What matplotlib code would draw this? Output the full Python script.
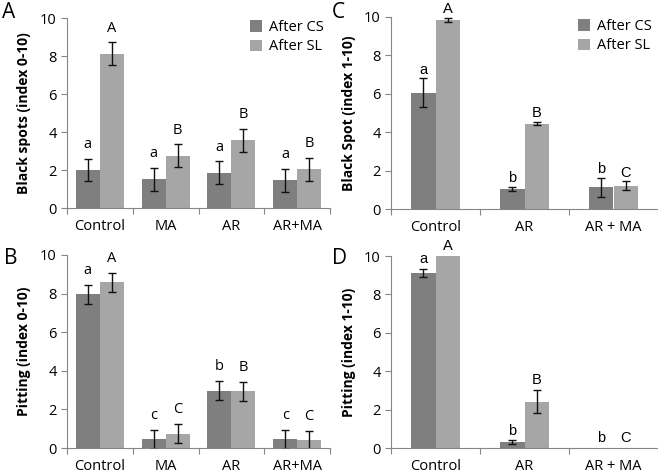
import numpy as np
import matplotlib.pyplot as plt

plt.rcParams['font.family'] = ['Open Sans', 'DejaVu Sans']

# panel A: black spots
cats_a = ["Control", "MA", "AR", "AR+MA"]
cs_a = [2.0, 1.5, 1.85, 1.45]
sl_a = [8.12, 2.75, 3.57, 2.03]
cs_a_err = [0.6, 0.6, 0.6, 0.6]
sl_a_err = [0.6, 0.6, 0.6, 0.6]
cs_a_let = ["a", "a", "a", "a"]
sl_a_let = ["A", "B", "B", "B"]

# panel B: pitting
cats_b = ["Control", "MA", "AR", "AR+MA"]
cs_b = [7.97, 0.45, 2.97, 0.45]
sl_b = [8.58, 0.75, 2.93, 0.40]
cs_b_err = [0.5, 0.5, 0.5, 0.5]
sl_b_err = [0.5, 0.5, 0.5, 0.5]
cs_b_let = ["a", "c", "b", "c"]
sl_b_let = ["A", "C", "B", "C"]

# panel C: black spot
cats_c = ["Control", "AR", "AR + MA"]
cs_c = [6.05, 1.05, 1.12]
sl_c = [9.85, 4.45, 1.22]
cs_c_err = [0.76, 0.12, 0.52]
sl_c_err = [0.12, 0.1, 0.22]
cs_c_let = ["a", "b", "b"]
sl_c_let = ["A", "B", "C"]

# panel D: pitting
cats_d = ["Control", "AR", "AR + MA"]
cs_d = [9.12, 0.30, 0.0]
sl_d = [10.0, 2.42, 0.0]
cs_d_err = [0.22, 0.1, 0.0]
sl_d_err = [0.0, 0.6, 0.0]
cs_d_let = ["a", "b", "b"]
sl_d_let = ["A", "B", "C"]

dark = "#7f7f7f"
light = "#a6a6a6"
W, H = 658, 473

fig = plt.figure(figsize=(W / 100, H / 100), dpi=100)


def panel(rect, cats, cs, sl, cse, sle, csl, sll, ylabel, bw, off, letfont, legend=False):
    l, t, r, b = rect
    ax = fig.add_axes([l / W, 1 - b / H, (r - l) / W, (b - t) / H])
    x = np.arange(len(cats))
    ax.bar(x - bw / 2, cs, bw, color=dark, label="After CS", zorder=2)
    ax.bar(x + bw / 2, sl, bw, color=light, label="After SL", zorder=2)
    ek = dict(fmt="none", ecolor="#111111", elinewidth=1, capsize=3, capthick=1, zorder=3)
    for i in range(len(cats)):
        # no error bar drawn where the error is zero
        if cse[i] > 0:
            ax.errorbar(x[i] - bw / 2, cs[i], yerr=cse[i], **ek)
        if sle[i] > 0:
            ax.errorbar(x[i] + bw / 2, sl[i], yerr=sle[i], **ek)
        ax.text(x[i] - bw / 2, cs[i] + cse[i] + off, csl[i], ha="center", va="center",
                fontsize=10.5, family=letfont)
        ax.text(x[i] + bw / 2, sl[i] + sle[i] + off, sll[i], ha="center", va="center",
                fontsize=10.5, family=letfont)
    ax.set_xlim(-0.5, len(cats) - 0.5)
    ax.set_ylim(0, 10)
    ax.set_yticks([0, 2, 4, 6, 8, 10])
    ax.set_xticks(x)
    ax.set_xticklabels(cats, fontsize=10.5)
    ax.set_xticks(np.arange(len(cats) + 1) - 0.5, minor=True)
    ax.tick_params(axis="x", which="major", length=0, pad=8)
    ax.tick_params(axis="x", which="minor", length=4, color="#868686", width=0.8)
    ax.tick_params(axis="y", length=4, color="#868686", width=0.8, labelsize=10.5)
    for s in ["top", "right"]:
        ax.spines[s].set_visible(False)
    for s in ["left", "bottom"]:
        ax.spines[s].set_color("#868686")
        ax.spines[s].set_linewidth(0.8)
    ax.set_ylabel(ylabel, fontsize=10, fontweight="bold", labelpad=6)
    if legend:
        ax.legend(loc="upper right", frameon=False, fontsize=10.5, handlelength=0.8,
                  handleheight=0.8, handletextpad=0.5, labelspacing=0.3,
                  borderaxespad=0.0, bbox_to_anchor=(1.0, 1.02))
    return ax


panel((67, 18, 330, 208), cats_a, cs_a, sl_a, cs_a_err, sl_a_err, cs_a_let, sl_a_let,
      "Black spots (index 0-10)", 0.365, 0.75, "Open Sans", legend=True)
panel((67, 255, 330, 448), cats_b, cs_b, sl_b, cs_b_err, sl_b_err, cs_b_let, sl_b_let,
      "Pitting (index 0-10)", 0.365, 0.75, "Open Sans")
panel((391, 17, 658, 209), cats_c, cs_c, sl_c, cs_c_err, sl_c_err, cs_c_let, sl_c_let,
      "Black Spot (index 1-10)", 0.28, 0.45, "Liberation Sans", legend=True)
panel((391, 256, 658, 448), cats_d, cs_d, sl_d, cs_d_err, sl_d_err, cs_d_let, sl_d_let,
      "Pitting (index 1-10)", 0.28, 0.5, "Liberation Sans")

for lab, px, py in [("A", 2, 12), ("B", 4, 258), ("C", 332, 12), ("D", 332, 258)]:
    fig.text(px / W, 1 - py / H, lab, fontsize=15, ha="left", va="center")

fig.savefig("out.png", dpi=100)
